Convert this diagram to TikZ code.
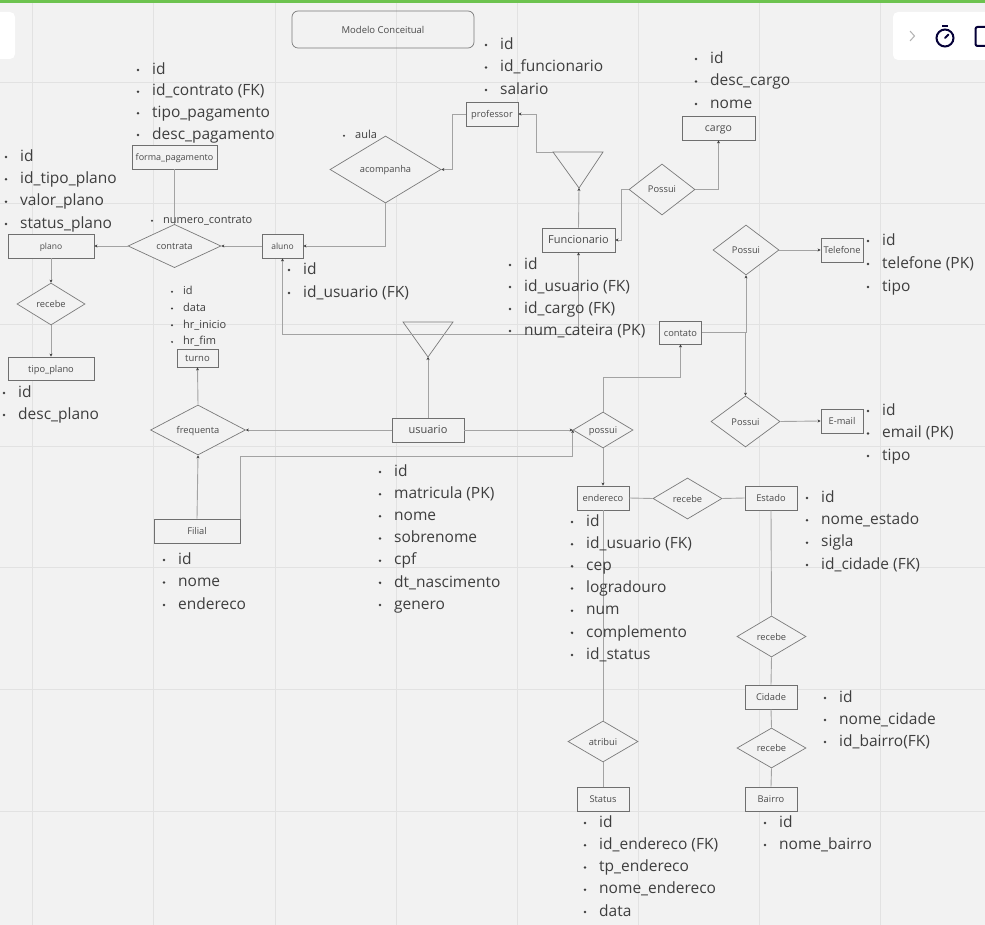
\documentclass[tikz,border=0pt]{standalone}
\usepackage{fontspec}
\setmainfont{Open Sans}
\usetikzlibrary{shapes.geometric,arrows.meta,calc}
\definecolor{bgc}{HTML}{F2F2F2}
\definecolor{gridc}{HTML}{E2E2E2}
\definecolor{edgec}{HTML}{6F6F6F}
\definecolor{relc}{HTML}{7A7A7A}
\definecolor{linec}{HTML}{A3A3A3}
\definecolor{txtc}{HTML}{3E3E3E}
\definecolor{lblc}{HTML}{4A4A4A}
\definecolor{mirogreen}{HTML}{6DC34F}
\definecolor{navyc}{HTML}{050038}
\newcommand\fsz[1]{\fontsize{#1}{#1}\selectfont}
\tikzset{
  ent/.style={rectangle, draw=edgec, line width=0.9pt, fill=bgc, inner sep=0pt,
    text=lblc, font=\fsz{9.3}, text height=0.7em, text depth=0pt},
  rel/.style={diamond, draw=relc, line width=0.7pt, fill=bgc, inner sep=0pt,
    text=lblc, font=\fsz{9.3}, text height=0.7em, text depth=0pt},
  conn/.style={draw=linec, line width=0.9pt},
  arr/.style={conn, -{Stealth[length=3pt,width=3pt,color=txtc]}},
  bigtxt/.style={anchor=base west, inner sep=0pt, text=txtc, font=\fsz{15.5}},
  smalltxt/.style={anchor=base west, inner sep=0pt, text=txtc, font=\fsz{11}},
}
\newcommand\biglist[5]{%
  \foreach \t [count=\i] in {#5} {
    \node[bigtxt] (#1-\i) at ({#2}, {#3+(\i-1)*#4+5.2}) {\t};
    \fill[txtc] ({#2-14}, {#3+(\i-1)*#4+1}) circle (1.4pt);
  }}
\newcommand\smalllist[5]{%
  \foreach \t [count=\i] in {#5} {
    \node[smalltxt] (#1-\i) at ({#2}, {#3+(\i-1)*#4+3.7}) {\t};
    \fill[txtc] ({#2-11}, {#3+(\i-1)*#4+0.8}) circle (1.1pt);
  }}
\begin{document}
\begin{tikzpicture}[x=1pt,y=-1pt]
\useasboundingbox (0,0) rectangle (985,925);
\fill[bgc] (0,0) rectangle (985,925);
% grid
\foreach \gx in {32,153,275,396,517,638,759,880}
  \draw[gridc, line width=0.8pt] (\gx,0) -- (\gx,925);
\foreach \gy in {82,203,324,446,567,689,811}
  \draw[gridc, line width=0.8pt] (0,\gy) -- (985,\gy);
% UI chrome
\fill[mirogreen] (0,0) rectangle (985,3.5);
\fill[white, rounded corners=5pt] (-10,12) rectangle (15,59);
\fill[white, rounded corners=5pt] (893,12) rectangle (995,60);
\draw[gray!60, line width=1pt] (910,31) -- (914.5,36) -- (910,41);
\draw[navyc, line width=2pt] (945,38) circle (8.5pt);
\draw[navyc, line width=2pt] (942,26.5) -- (948,26.5);
\draw[navyc, line width=2pt, line cap=round] (945,38) -- (948.5,34.5);
\draw[navyc, line width=2pt, rounded corners=2pt] (986,27) -- (975.5,27) -- (975.5,46) -- (986,46);

% title
\node[draw=relc, rounded corners=6pt, minimum width=182pt, minimum height=37pt,
  line width=0.7pt, text=lblc, font=\fsz{9.5}, inner sep=0pt] (title) at (383,29.5) {Modelo Conceitual};

% entities
\node[ent, minimum width=85pt, minimum height=24pt, font=\fsz{9}] (fp) at (174.5,157) {forma\_pagamento};
\node[ent, minimum width=86pt, minimum height=24pt, font=\fsz{8.5}] (plano) at (51,246) {plano};
\node[ent, minimum width=41pt, minimum height=24pt, font=\fsz{8.5}] (aluno) at (282.5,246) {aluno};
\node[ent, minimum width=52pt, minimum height=24pt] (prof) at (492,114) {professor};
\node[ent, minimum width=73pt, minimum height=24pt, font=\fsz{11}] (func) at (578.5,240) {Funcionario};
\node[ent, minimum width=73pt, minimum height=24pt, font=\fsz{10.5}] (cargo) at (718.5,128) {cargo};
\node[ent, minimum width=42pt, minimum height=24pt] (tel) at (842,250) {Telefone};
\node[ent, minimum width=42pt, minimum height=23pt] (contato) at (680.5,332.5) {contato};
\node[ent, minimum width=42pt, minimum height=24pt] (email) at (842,421) {E-mail};
\node[ent, minimum width=72pt, minimum height=24pt, font=\fsz{11}] (usuario) at (428,430) {usuario};
\node[ent, minimum width=41pt, minimum height=18pt, font=\fsz{9.5}] (turno) at (197.5,358) {turno};
\node[ent, minimum width=86pt, minimum height=24pt] (filial) at (197,531) {Filial};
\node[ent, minimum width=86pt, minimum height=23pt] (tipo) at (51,368.5) {tipo\_plano};
\node[ent, minimum width=52pt, minimum height=24pt] (ender) at (603,498) {endereco};
\node[ent, minimum width=52pt, minimum height=24pt] (estado) at (771,498) {Estado};
\node[ent, minimum width=52pt, minimum height=24pt] (cidade) at (771,697) {Cidade};
\node[ent, minimum width=52pt, minimum height=24pt] (bairro) at (771,799) {Bairro};
\node[ent, minimum width=52pt, minimum height=24pt] (status) at (603,799) {Status};

% relationships
\node[rel, minimum width=93pt, minimum height=36pt] (ctr) at (174.5,246) {contrata};
\node[rel, minimum width=111pt, minimum height=67pt] (acomp) at (385.5,169.5) {acompanha};
\node[rel, minimum width=66pt, minimum height=51pt] (possC) at (662,189.5) {Possui};
\node[rel, minimum width=66pt, minimum height=50pt] (possT) at (746,250) {Possui};
\node[rel, minimum width=69pt, minimum height=51pt] (possE) at (745.5,421.5) {Possui};
\node[rel, minimum width=60pt, minimum height=36pt] (possui) at (603,430) {possui};
\node[rel, minimum width=95pt, minimum height=50pt] (freq) at (198,430) {frequenta};
\node[rel, minimum width=68pt, minimum height=42pt] (rec1) at (51,304) {recebe};
\node[rel, minimum width=69pt, minimum height=41pt] (recE) at (687.5,498.5) {recebe};
\node[rel, minimum width=69pt, minimum height=41pt] (rec2) at (771.5,636.5) {recebe};
\node[rel, minimum width=69pt, minimum height=40pt] (rec3) at (771.5,748) {recebe};
\node[rel, minimum width=70pt, minimum height=41pt] (atrib) at (603,741.5) {atribui};

% specialisation triangles
\coordinate (t1a) at (553,152); \coordinate (t1b) at (603,152); \coordinate (t1c) at (579,188);
\coordinate (t2a) at (403,322); \coordinate (t2b) at (453,322); \coordinate (t2c) at (428,357);
\coordinate (t2m) at (428,334);
\draw[relc, line width=0.7pt] (t1a) -- (t1b) -- (t1c) -- cycle;
\draw[relc, line width=0.7pt] (t2a) -- (t2b) -- (t2c) -- cycle;

% connectors
\draw[conn] (fp.south) -- (ctr.north);
\draw[arr] (ctr.west) -- (plano.east);
\draw[arr] (aluno.west) -- (ctr.east);
\draw[arr] (acomp.south) |- (aluno.east);
\draw[arr] (prof.west) -- ++(-13,0) |- (acomp.east);
\draw[arr] (t1a) -- ++(-17,0) |- (prof.east);
\draw[arr] (func.north) -- (t1c);
\draw[arr] (possC.west) -- ++(-7,0) |- (func.east);
\draw[arr] (possC.east) -| (cargo.south);
\draw[arr] (t2m) -| (aluno.south);
\draw[arr] (t2m) -| (func.south);
\draw[arr] (usuario.north) -- (t2c);
\draw[arr] (usuario.west) -- (freq.east);
\draw[arr] (usuario.east) -- (possui.west);
\draw[arr] (filial.north east) |- ($(possui.west)+(0,26)$) -- (possui.west);
\draw[arr] (filial.north) -- (freq.south);
\draw[arr] (freq.north) -- (turno.south);
\draw[arr] (plano.south) -- (rec1.north);
\draw[arr] (rec1.south) -- (tipo.north);
\draw[arr] (possui.north) -- ++(0,-34) -| (contato.south);
\draw[arr] (possui.south) -- (ender.north);
\draw[arr] (contato.east) -| (possT.south);
\draw[arr] (contato.east) -| (possE.north);
\draw[arr] (possT.east) -- (tel.west);
\draw[arr] (possE.east) -- (email.west);
\draw[conn] (ender.east) -- (recE.west);
\draw[conn] (recE.east) -- (estado.west);
\draw[conn] (estado.south) -- (rec2.north);
\draw[conn] (rec2.south) -- (cidade.north);
\draw[conn] (cidade.south) -- (rec3.north);
\draw[conn] (rec3.south) -- (bairro.north);
\draw[conn] (ender.south) -- (atrib.north);
\draw[conn] (atrib.south) -- (status.north);

% attribute lists
\biglist{aplano}{20}{156}{22.33}{id,id\_tipo\_plano,valor\_plano,status\_plano}
\biglist{afp}{152}{69}{21.67}{id,id\_contrato (FK),tipo\_pagamento,desc\_pagamento}
\biglist{aprof}{500}{44}{22.5}{id,id\_funcionario,salario}
\biglist{acargo}{710}{58}{22.5}{id,desc\_cargo,nome}
\biglist{aaluno}{303}{269}{23}{id,id\_usuario (FK)}
\biglist{afunc}{524}{264}{22}{id,id\_usuario (FK),id\_cargo (FK),num\_cateira (PK)}
\biglist{atipo}{18}{392}{22}{id,desc\_plano}
\biglist{atel}{882}{240}{23}{id,telefone (PK),tipo}
\biglist{aemail}{882}{410}{22.5}{id,email (PK),tipo}
\biglist{ausu}{394}{471}{22.17}{id,matricula (PK),nome,sobrenome,cpf,dt\_nascimento,genero}
\biglist{afil}{178}{559}{22.5}{id,nome,endereco}
\biglist{aend}{586}{521}{22.17}{id,id\_usuario (FK),cep,logradouro,num,complemento,id\_status}
\biglist{aest}{821}{497}{22.33}{id,nome\_estado,sigla,id\_cidade (FK)}
\biglist{acid}{839}{697}{22}{id,nome\_cidade,id\_bairro(FK)}
\biglist{astat}{599}{822}{22.25}{id,id\_endereco (FK),tp\_endereco,nome\_endereco,data}
\biglist{abai}{779}{822}{22}{id,nome\_bairro}
\smalllist{actr}{163}{220}{0}{numero\_contrato}
\smalllist{aturno}{183}{291}{16.7}{id,data,hr\_inicio,hr\_fim}
\smalllist{aaula}{355}{135}{0}{aula}
\end{tikzpicture}
\end{document}
